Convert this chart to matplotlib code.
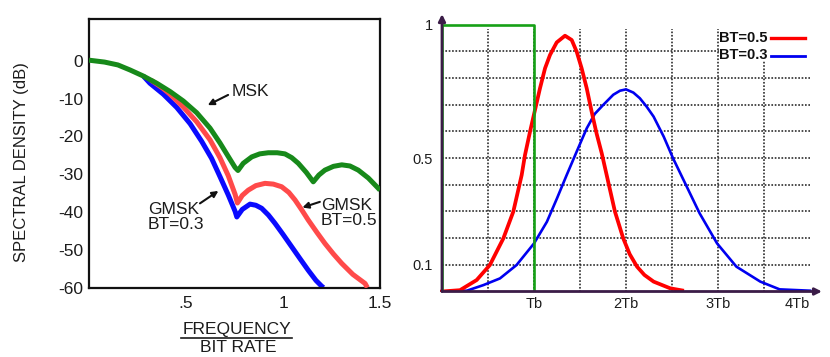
import numpy as np
import matplotlib
matplotlib.use('Agg')
import matplotlib.pyplot as plt
from matplotlib.lines import Line2D
from matplotlib.patches import Rectangle

plt.rcParams['font.family'] = ['Liberation Sans', 'DejaVu Sans']

# ---------------- Left panel: spectral density (dB) vs f/Rb ----------------
msk_f = [0.0, 0.08, 0.149, 0.211, 0.280, 0.349, 0.418, 0.486, 0.555, 0.624,
         0.675, 0.718, 0.753, 0.768, 0.795, 0.839, 0.88, 0.924, 0.97, 1.010,
         1.045, 1.079, 1.12, 1.156, 1.185, 1.216, 1.26, 1.303, 1.345, 1.388,
         1.44, 1.491, 1.5]
msk_db = [0.2, -0.3, -1.06, -2.38, -4.0, -5.9, -8.1, -10.6, -13.7, -17.8,
          -21.7, -25.3, -28.2, -29.0, -27.1, -25.4, -24.6, -24.3, -24.3, -24.6,
          -25.6, -27.1, -29.5, -32.0, -30.2, -28.9, -27.9, -27.5, -27.8, -28.9,
          -31.0, -33.7, -34.2]

gmsk05_f = [0.32, 0.38, 0.418, 0.486, 0.555, 0.624, 0.675, 0.718, 0.753,
            0.765, 0.79, 0.821, 0.86, 0.907, 0.95, 0.993, 1.030, 1.062, 1.095,
            1.130, 1.175, 1.216, 1.26, 1.303, 1.36, 1.423, 1.435]
gmsk05_db = [-5.1, -7.2, -8.8, -12.2, -16.1, -20.9, -25.6, -30.4, -35.3,
             -37.6, -35.6, -34.2, -33.0, -32.4, -32.6, -33.3, -34.8, -36.8, -39.3,
             -42.1, -45.4, -48.3, -51.1, -53.6, -56.5, -58.9, -60.0]

gmsk03_f = [0.28, 0.314, 0.383, 0.452, 0.521, 0.581, 0.632, 0.675, 0.718,
            0.753, 0.762, 0.79, 0.830, 0.860, 0.890, 0.925, 0.959, 1.0, 1.045,
            1.09, 1.130, 1.170, 1.199, 1.209]
gmsk03_db = [-4.0, -5.9, -8.8, -12.3, -16.6, -21.3, -25.8, -30.6, -35.5,
             -39.8, -41.3, -39.3, -37.9, -38.2, -39.0, -40.8, -43.0, -45.9, -49.2,
             -52.5, -55.4, -58.1, -59.6, -60.0]

psd_yticks = [0, -10, -20, -30, -40, -50, -60]
psd_yticklabels = ['0', '-10', '-20', '-30', '-40', '-50', '-60']
psd_xticks = [0.5, 1.0, 1.5]
psd_xticklabels = ['.5', '1', '1.5']

# ---------------- Right panel: Gaussian filtered pulses ----------------
rect_t = [0, 0, 1, 1]
rect_v = [0, 1, 1, 0]

bt05_t = [0.0, 0.196, 0.377, 0.52, 0.667, 0.775, 0.866, 0.902, 0.957, 1.011,
          1.065, 1.12, 1.174, 1.247, 1.337, 1.41, 1.464, 1.518, 1.573, 1.627,
          1.68, 1.736, 1.79, 1.88, 1.97, 2.04, 2.12, 2.20, 2.30, 2.48, 2.61]
bt05_v = [0.0, 0.005, 0.043, 0.099, 0.199, 0.299, 0.436, 0.511, 0.599, 0.680,
          0.761, 0.836, 0.886, 0.933, 0.958, 0.942, 0.898, 0.836, 0.761, 0.673,
          0.592, 0.518, 0.436, 0.299, 0.199, 0.140, 0.093, 0.062, 0.037, 0.012,
          0.004]

bt03_t = [0.0, 0.27, 0.45, 0.63, 0.81, 1.0, 1.14, 1.25, 1.355, 1.464, 1.573,
          1.66, 1.753, 1.862, 1.935, 2.0, 2.08, 2.15, 2.225, 2.30, 2.41, 2.51,
          2.66, 2.80, 2.99, 3.20, 3.46, 3.67, 4.0]
bt03_v = [0.0, 0.003, 0.024, 0.049, 0.099, 0.18, 0.261, 0.349, 0.436, 0.524,
          0.611, 0.665, 0.699, 0.737, 0.752, 0.757, 0.745, 0.724, 0.692, 0.655,
          0.58, 0.50, 0.393, 0.293, 0.18, 0.093, 0.037, 0.008, 0.003]

pulse_xticks = [1, 2, 3, 4]
pulse_xticklabels = ['Tb', '2Tb', '3Tb', '4Tb']
pulse_yticks = [0.1, 0.5, 1.0]
pulse_yticklabels = ['0.1', '0.5', '1']
legend_labels = ['BT=0.5', 'BT=0.3']

W, H = 830, 357
fig = plt.figure(figsize=(W / 100, H / 100), dpi=100)
TXT = '#1c1c1c'

# ---------- left axes ----------
axL = fig.add_axes([89 / W, 1 - 288 / H, (380 - 89) / W, (288 - 19) / H])
axL.set_xlim(0, 1.5)
axL.set_ylim(-60.1, 11.1)
axL.plot(gmsk03_f, gmsk03_db, color='#0a0aff', lw=3.6, solid_capstyle='butt', zorder=2)
axL.plot(gmsk05_f, gmsk05_db, color='#ff4a4a', lw=3.6, solid_capstyle='butt', zorder=3)
axL.plot(msk_f, msk_db, color='#17891a', lw=3.6, solid_capstyle='butt', zorder=4)
axL.set_yticks(psd_yticks)
axL.set_yticklabels(psd_yticklabels)
axL.set_xticks(psd_xticks)
axL.set_xticklabels(psd_xticklabels)
axL.tick_params(axis='both', length=0, labelsize=12.5, colors=TXT)
axL.tick_params(axis='y', pad=4)
axL.tick_params(axis='x', pad=6)
for s in axL.spines.values():
    s.set_linewidth(1.6)
    s.set_color('#111111')

arrow_kw = dict(arrowstyle='-|>', color='#111111', lw=1.5, mutation_scale=9,
                shrinkA=0, shrinkB=0)
axL.annotate('', xy=(0.612, -11.7), xytext=(0.717, -9.0), arrowprops=arrow_kw)
axL.annotate('', xy=(0.667, -34.4), xytext=(0.572, -37.7), arrowprops=arrow_kw)
axL.annotate('', xy=(1.10, -38.8), xytext=(1.19, -37.3), arrowprops=arrow_kw)
axL.text(0.737, -8.1, 'MSK', fontsize=12.5, color=TXT, ha='left', va='center')
axL.text(0.304, -41.2, 'GMSK\nBT=0.3', fontsize=12.5, color=TXT, ha='left',
         va='center', linespacing=1.0)
axL.text(1.194, -40.3, 'GMSK\nBT=0.5', fontsize=12.5, color=TXT, ha='left',
         va='center', linespacing=1.0)

fig.text(22 / W, 1 - 162 / H, 'SPECTRAL DENSITY (dB)', rotation=90, fontsize=12,
         color=TXT, ha='center', va='center')
fig.text(237 / W, 1 - 329.5 / H, 'FREQUENCY', fontsize=12.5, color=TXT,
         ha='center', va='center')
fig.text(238 / W, 1 - 347 / H, 'BIT RATE', fontsize=12.5, color=TXT,
         ha='center', va='center')
fig.add_artist(Line2D([181 / W, 292 / W], [1 - 337.5 / H, 1 - 337.5 / H],
                      color=TXT, lw=1.2))

# ---------- right axes ----------
x0, x1 = -0.02, 4.13
y0, y1 = 0.0, 1.039
px_per_t, px_per_v = 92.0, 267.0
left_px = 442 + x0 * px_per_t
width_px = (x1 - x0) * px_per_t
bottom_px = 291.5
height_px = (y1 - y0) * px_per_v
axR = fig.add_axes([left_px / W, 1 - bottom_px / H, width_px / W, height_px / H])
axR.set_xlim(x0, x1)
axR.set_ylim(y0, y1)
for s in axR.spines.values():
    s.set_visible(False)

grid_kw = dict(color='#1a1a1a', lw=1.1, linestyle=(0, (1.1, 1.1)), zorder=1)
for v in np.arange(1, 10) / 10:
    axR.plot([0, 4], [v, v], **grid_kw)
for t in np.arange(1, 8) / 2:
    axR.plot([t, t], [0, 0.985], **grid_kw)

# white box behind legend hides grid
axR.add_patch(Rectangle((3.015, 0.865), 1.06, 0.12, facecolor='white',
                        edgecolor='none', zorder=2))

axR.plot(bt03_t, bt03_v, color='#0000f0', lw=1.9, zorder=3)
axR.plot(bt05_t, bt05_v, color='#ff0000', lw=2.7, zorder=4)
axR.plot(rect_t, rect_v, color='#16a016', lw=1.9, zorder=5)

axR.text(3.014, 0.948, legend_labels[0], fontsize=10.5, fontweight='bold',
         color='#111111', ha='left', va='center', zorder=6)
axR.text(3.014, 0.886, legend_labels[1], fontsize=10.5, fontweight='bold',
         color='#111111', ha='left', va='center', zorder=6)
axR.plot([3.576, 3.946], [0.949, 0.949], color='#ff0000', lw=2.4, zorder=6)
axR.plot([3.576, 3.946], [0.881, 0.881], color='#0000f0', lw=2.0, zorder=6)

axis_kw = dict(arrowstyle='-|>', color='#3b1c47', lw=2.0, mutation_scale=10,
               shrinkA=0, shrinkB=0)
axR.annotate('', xy=(x1, 0), xytext=(0, 0), arrowprops=axis_kw,
             annotation_clip=False, zorder=7)
axR.annotate('', xy=(0, y1), xytext=(0, 0), arrowprops=axis_kw,
             annotation_clip=False, zorder=7)

axR.set_xticks(pulse_xticks)
axR.set_xticklabels(pulse_xticklabels)
axR.set_yticks(pulse_yticks)
axR.set_yticklabels(pulse_yticklabels)
axR.tick_params(axis='both', length=0, labelsize=10.5, colors=TXT)
axR.tick_params(axis='x', pad=4)
axR.tick_params(axis='y', pad=5)
axR.get_xticklabels()[-1].set_ha('right')

fig.savefig('out.png', dpi=100)
